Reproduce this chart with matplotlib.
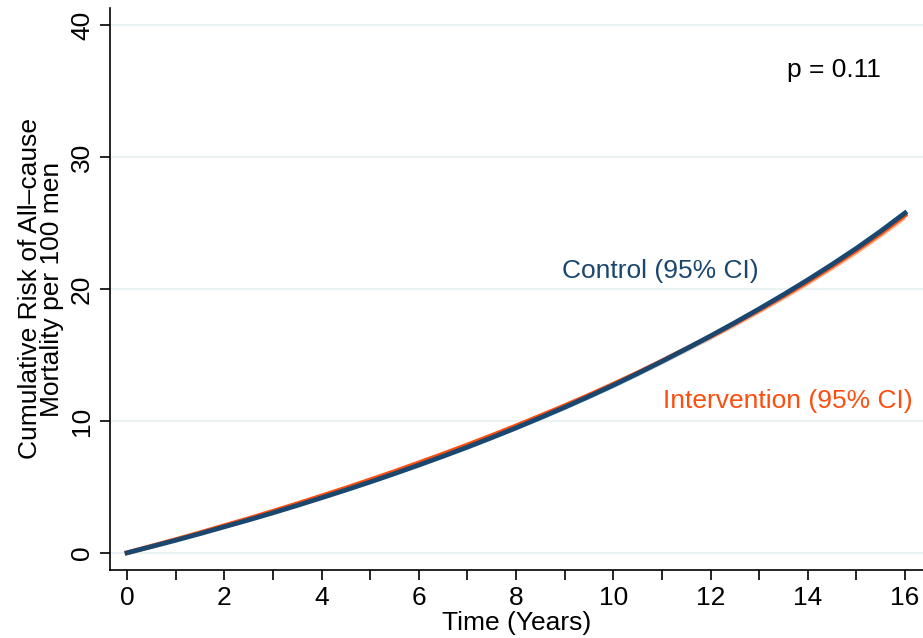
import matplotlib
matplotlib.use("Agg")
import matplotlib.pyplot as plt
import numpy as np

years = [0, 0.5, 1, 1.5, 2, 2.5, 3, 3.5, 4, 4.5, 5, 5.5, 6, 6.5, 7, 7.5, 8,
         8.5, 9, 9.5, 10, 10.5, 11, 11.5, 12, 12.5, 13, 13.5, 14, 14.5, 15, 15.5, 16]
control = [0, 0.47, 0.95, 1.45, 1.97, 2.49, 3.03, 3.59, 4.17, 4.76, 5.37, 6.00, 6.65, 7.32, 8.01, 8.73, 9.47,
           10.24, 11.03, 11.85, 12.70, 13.59, 14.51, 15.46, 16.44, 17.45, 18.49, 19.57, 20.69, 21.86, 23.08, 24.38, 25.76]
interv = [0, 0.50, 1.00, 1.52, 2.06, 2.59, 3.15, 3.72, 4.31, 4.91, 5.53, 6.16, 6.82, 7.49, 8.18, 8.89, 9.62,
          10.38, 11.15, 11.95, 12.78, 13.64, 14.54, 15.47, 16.40, 17.39, 18.41, 19.47, 20.57, 21.73, 22.94, 24.23, 25.60]
ci_half = [0, 0.02, 0.03, 0.04, 0.05, 0.06, 0.07, 0.08, 0.09, 0.1, 0.1, 0.11, 0.12, 0.13, 0.13, 0.14, 0.15,
           0.16, 0.17, 0.18, 0.19, 0.2, 0.21, 0.22, 0.23, 0.24, 0.25, 0.26, 0.27, 0.28, 0.29, 0.3, 0.31]

xticks = list(range(0, 17, 2))
minor_xticks = list(range(0, 17))
yticks = [0, 10, 20, 30, 40]

navy = "#1a476f"
orange = "#fc4e0f"
grid_c = "#eaf2f3"

yrs = np.array(years)
c = np.array(control)
iv = np.array(interv)
h = np.array(ci_half)

plt.rcParams['font.family'] = ['Liberation Sans', 'DejaVu Sans']
fig = plt.figure(figsize=(9.23, 6.38), dpi=100)
ax = fig.add_axes([0.1192, 0.1066, 0.8808, 0.8809])

for yv in yticks:
    ax.axhline(yv, color=grid_c, lw=1.5, zorder=0)

ax.fill_between(yrs, iv - h, iv + h, color="#ffb48a", lw=0, zorder=1)
ax.fill_between(yrs, c - h, c + h, color="#b9dbe8", lw=0, zorder=2)
ax.plot(yrs, iv, color=orange, lw=3.4, zorder=3, solid_joinstyle='round')
ax.plot(yrs, c, color=navy, lw=3.4, zorder=4, solid_joinstyle='round')

ax.set_xlim(-0.35, 16.37)
ax.set_ylim(-1.3, 41.3)
ax.set_xticks(xticks)
ax.set_xticks(minor_xticks, minor=True)
ax.set_yticks(yticks)
ax.tick_params(axis='both', which='both', length=7.5, width=1.2, labelsize=19, color='black')
ax.tick_params(axis='y', labelrotation=90, pad=4)
for lab in ax.get_yticklabels():
    lab.set_va('center')
ax.tick_params(axis='x', pad=4)
ax.spines['top'].set_visible(False)
ax.spines['right'].set_visible(False)
ax.spines['left'].set_linewidth(1.2)
ax.spines['bottom'].set_linewidth(1.2)

ax.set_xlabel("Time (Years)", fontsize=19, labelpad=1)
ax.set_ylabel("Cumulative Risk of All\u2013cause\nMortality per 100 men", fontsize=19, labelpad=4, linespacing=0.9)

ax.text(10.97, 21.4, "Control (95% CI)", color=navy, fontsize=19, ha='center', va='center')
ax.text(13.58, 11.5, "Intervention (95% CI)", color=orange, fontsize=19, ha='center', va='center')
ax.text(14.53, 36.6, "p = 0.11", color='black', fontsize=19, ha='center', va='center')

fig.savefig("out.png", dpi=100)
